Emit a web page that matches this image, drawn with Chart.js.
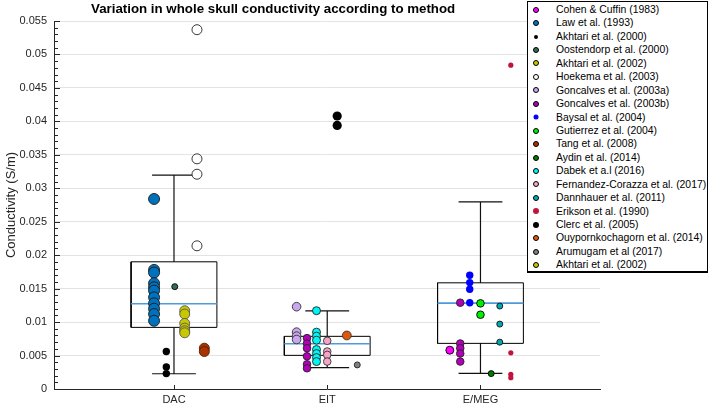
<!DOCTYPE html>
<html>
<head>
<meta charset="utf-8">
<script src="https://cdn.jsdelivr.net/npm/chart.js@4.4.1/dist/chart.umd.min.js"></script>
<style>
  html, body { margin: 0; padding: 0; background: #fff; }
  #wrap { position: relative; width: 709px; height: 408px; }
  #legend {
    position: absolute; left: 527px; top: 1px; width: 181px; height: 272px;
    box-sizing: border-box; border: 1px solid #000; border-bottom-width: 2px;
    background: #fff; font: 10.4px "Liberation Sans", Arial, sans-serif; color: #000;
  }
  #legend ul { list-style: none; margin: 0; padding: 1px 0 0 0; }
  #legend li { position: relative; height: 13.45px; line-height: 13.45px; padding-left: 28px; white-space: nowrap; }
  #legend li span { position: absolute; left: 8px; top: 50%; transform: translate(-50%, -50%); border-radius: 50%; box-sizing: border-box; }
</style>
</head>
<body>
<div id="wrap">
  <canvas id="chart" width="709" height="408"></canvas>
  <div id="legend"></div>
</div>
<script>
const categories = ['DAC', 'EIT', 'E/MEG'];
const yTickValues = [0, 0.005, 0.01, 0.015, 0.02, 0.025, 0.03, 0.035, 0.04, 0.045, 0.05, 0.055];

// boxplot statistics per method (S/m)
const whiskerLow  = [0.00228, 0.00318, 0.00234];
const quartile1   = [0.00921, 0.00503, 0.00682];
const medians     = [0.01274, 0.00676, 0.01284];
const quartile3   = [0.01901, 0.00787, 0.01587];
const whiskerHigh = [0.03196, 0.01169, 0.02797];

// skull conductivity per study (S/m)
const cohen1983 = [0.0058];
const law1993 = [0.0284, 0.0178, 0.0174, 0.0158, 0.0152, 0.0147, 0.0137, 0.0128, 0.0120, 0.0112, 0.0102];
const akhtari2000 = [0.0056, 0.0033, 0.0023];
const oostendorp2000 = [0.0153];
const akhtari2002 = [0.0117, 0.0112, 0.0098, 0.0091, 0.0087, 0.0084];
const hoekema2003 = [0.0537, 0.0344, 0.0321, 0.0214];
const goncalves2003a = [0.0123, 0.0085, 0.0079, 0.0074];
const goncalves2003bEIT = [0.0076, 0.0068, 0.0061, 0.0049, 0.0037, 0.0031];
const goncalves2003bMEG = [0.0129, 0.0068, 0.0061, 0.0053, 0.0041];
const baysal2004 = [0.0170, 0.0159, 0.0149, 0.0129];
const gutierrez2004 = [0.0128, 0.0111];
const tang2008 = [0.0061, 0.0056];
const aydin2014 = [0.0023];
const dabek2016 = [0.0117, 0.0085, 0.0079, 0.0073, 0.0059, 0.0053, 0.0047, 0.0041];
const fernandez2017 = [0.0072, 0.0056, 0.0051, 0.0041];
const dannhauer2011 = [0.0124, 0.0097, 0.0070];
const erikson1990 = [0.0484, 0.0054, 0.0022, 0.0017];
const clerc2005 = [0.0408, 0.0394];
const ouypornkochagorn2014 = [0.0080];
const arumugam2017 = [0.0036];

// study -> [method index, values]
const studies = [
  ['Cohen & Cuffin (1983)', [[2, cohen1983]]],
  ['Law et al. (1993)', [[0, law1993]]],
  ['Akhtari et al. (2000)', [[0, akhtari2000]]],
  ['Oostendorp et al. (2000)', [[0, oostendorp2000]]],
  ['Akhtari et al. (2002)', [[0, akhtari2002]]],
  ['Hoekema et al. (2003)', [[0, hoekema2003]]],
  ['Goncalves et al. (2003a)', [[1, goncalves2003a]]],
  ['Goncalves et al. (2003b)', [[1, goncalves2003bEIT], [2, goncalves2003bMEG]]],
  ['Baysal et al. (2004)', [[2, baysal2004]]],
  ['Gutierrez et al. (2004)', [[2, gutierrez2004]]],
  ['Tang et al. (2008)', [[0, tang2008]]],
  ['Aydin et al. (2014)', [[2, aydin2014]]],
  ['Dabek et a.l (2016)', [[1, dabek2016]]],
  ['Fernandez-Corazza et al. (2017)', [[1, fernandez2017]]],
  ['Dannhauer et al. (2011)', [[2, dannhauer2011]]],
  ['Erikson et al. (1990)', [[2, erikson1990]]],
  ['Clerc et al. (2005)', [[1, clerc2005]]],
  ['Ouypornkochagorn et al. (2014)', [[1, ouypornkochagorn2014]]],
  ['Arumugam et al (2017)', [[1, arumugam2017]]],
  ['Akhtari et al. (2002)', []]
];

// marker look: fill, radius, edge, horizontal shift in the group, legend dot size
const looks = [
  { fill: '#ff00ff', r: 4,   edge: '#000', dx: -0.20, dot: 6 },
  { fill: '#0072bd', r: 5.5, edge: '#1a1a1a', dx: -0.13, dot: 6 },
  { fill: '#000000', r: 3.7, edge: '#000', dx: -0.05, dot: 4, noEdge: true },
  { fill: '#336b55', r: 3,   edge: '#000', dx: 0.005, dot: 6 },
  { fill: '#c8c800', r: 5,   edge: '#555', dx: 0.07, dot: 6 },
  { fill: '#ffffff', r: 5,   edge: '#222', dx: 0.15, dot: 6 },
  { fill: '#c9a6ee', r: 4.3, edge: '#333', dx: -0.20, dot: 6 },
  { fill: '#b000b8', r: 3.8, edge: '#222', dx: -0.132, dot: 6 },
  { fill: '#0000ff', r: 3.7, edge: '#0000ff', dx: -0.07, dot: 5, noEdge: true },
  { fill: '#00f000', r: 3.8, edge: '#000', dx: 0.0, dot: 6 },
  { fill: '#a83200', r: 5,   edge: '#552000', dx: 0.198, dot: 6 },
  { fill: '#007a00', r: 3,   edge: '#000', dx: 0.07, dot: 6 },
  { fill: '#00f5f5', r: 4,   edge: '#222', dx: -0.07, dot: 6 },
  { fill: '#f4a4c8', r: 3.8, edge: '#333', dx: 0.0, dot: 6 },
  { fill: '#00a8b0', r: 3,   edge: '#111', dx: 0.126, dot: 6 },
  { fill: '#c0143c', r: 2.6, edge: '#c0143c', dx: 0.198, dot: 6, noEdge: true },
  { fill: '#000000', r: 4.6, edge: '#000', dx: 0.065, dot: 6, noEdge: true },
  { fill: '#e0560c', r: 4.4, edge: '#333', dx: 0.128, dot: 6 },
  { fill: '#7f7f7f', r: 3,   edge: '#222', dx: 0.196, dot: 6 },
  { fill: '#c8c800', r: 5,   edge: '#555', dx: 0.0, dot: 6 }
];

const halfBox = 0.28;
const halfCap = 0.143;

const pointSets = studies.map(function (s, i) {
  const look = looks[i];
  const data = [];
  s[1].forEach(function (g) {
    g[1].forEach(function (v) { data.push({ x: g[0] + 1 + look.dx, y: v }); });
  });
  return {
    label: s[0],
    data: data,
    backgroundColor: look.fill,
    borderColor: look.noEdge ? look.fill : look.edge,
    borderWidth: look.noEdge ? 0 : 0.9,
    pointRadius: look.r,
    order: 1,
    look: look
  };
});

function boxLines() {
  const pts = [];
  categories.forEach(function (c, i) {
    const x = i + 1;
    pts.push({ x: x - halfBox, y: quartile1[i] }, { x: x + halfBox, y: quartile1[i] },
             { x: x + halfBox, y: quartile3[i] }, { x: x - halfBox, y: quartile3[i] },
             { x: x - halfBox, y: quartile1[i] }, { x: x, y: null });
  });
  return pts;
}

function whiskerLines() {
  const pts = [];
  categories.forEach(function (c, i) {
    const x = i + 1;
    pts.push({ x: x, y: quartile3[i] }, { x: x, y: whiskerHigh[i] }, { x: x, y: null },
             { x: x - halfCap, y: whiskerHigh[i] }, { x: x + halfCap, y: whiskerHigh[i] }, { x: x, y: null },
             { x: x, y: quartile1[i] }, { x: x, y: whiskerLow[i] }, { x: x, y: null },
             { x: x - halfCap, y: whiskerLow[i] }, { x: x + halfCap, y: whiskerLow[i] }, { x: x, y: null });
  });
  return pts;
}

function medianLines() {
  const pts = [];
  categories.forEach(function (c, i) {
    const x = i + 1;
    pts.push({ x: x - halfBox, y: medians[i] }, { x: x + halfBox, y: medians[i] }, { x: x, y: null });
  });
  return pts;
}

const lineSet = function (data, color, width) {
  return {
    data: data, showLine: true, spanGaps: false, pointRadius: 0,
    borderColor: color, borderWidth: width, backgroundColor: color,
    order: 5, fill: false
  };
};

const axisColor = '#262626';

// inward tick marks, minor ticks every 0.001
const tickMarks = {
  id: 'tickMarks',
  beforeDatasetsDraw(chart) {
    const ctx = chart.ctx;
    const y = chart.scales.y, x = chart.scales.x;
    const left = chart.chartArea.left, bottom = chart.chartArea.bottom;
    ctx.save();
    ctx.strokeStyle = axisColor;
    ctx.lineWidth = 1;
    ctx.beginPath();
    for (let k = 0; k <= 55; k++) {
      const py = Math.round(y.getPixelForValue(k / 1000)) + 0.5;
      const len = k % 5 === 0 ? 6 : 4;
      ctx.moveTo(left, py);
      ctx.lineTo(left + len, py);
    }
    categories.forEach(function (c, i) {
      const px = Math.round(x.getPixelForValue(i + 1)) + 0.5;
      ctx.moveTo(px, bottom);
      ctx.lineTo(px, bottom - 4);
    });
    ctx.stroke();
    ctx.restore();
  }
};

const chartTitle = {
  id: 'chartTitle',
  afterDraw(chart) {
    const ctx = chart.ctx;
    ctx.save();
    ctx.fillStyle = '#000';
    ctx.font = 'bold 13.3px "Liberation Sans", Arial, sans-serif';
    ctx.textBaseline = 'alphabetic';
    ctx.fillText('Variation in whole skull conductivity according to method', 91, 13);
    ctx.restore();
  }
};

const htmlLegend = {
  id: 'htmlLegend',
  afterUpdate(chart) {
    const box = document.getElementById('legend');
    const ul = document.createElement('ul');
    chart.data.datasets.forEach(function (ds) {
      if (!ds.label) return;
      const li = document.createElement('li');
      const dot = document.createElement('span');
      const d = ds.look.dot;
      dot.style.width = d + 'px';
      dot.style.height = d + 'px';
      dot.style.background = ds.look.fill;
      dot.style.border = ds.look.noEdge ? 'none' : '1px solid #000';
      li.appendChild(dot);
      li.appendChild(document.createTextNode(ds.label));
      ul.appendChild(li);
    });
    box.innerHTML = '';
    box.appendChild(ul);
  }
};

new Chart(document.getElementById('chart'), {
  type: 'scatter',
  data: {
    datasets: pointSets.concat([
      lineSet(medianLines(), '#4f9bd9', 1.6),
      lineSet(boxLines(), '#000', 1),
      lineSet(whiskerLines(), '#111', 1.2)
    ])
  },
  options: {
    responsive: false,
    animation: false,
    layout: { padding: { left: 0, right: 109, top: 21, bottom: 0 } },
    plugins: { legend: { display: false }, tooltip: { enabled: false } },
    scales: {
      x: {
        type: 'linear', min: 0.217, max: 3.78,
        afterBuildTicks: function (scale) { scale.ticks = categories.map(function (c, i) { return { value: i + 1 }; }); },
        afterFit: function (scale) { scale.height = 19; },
        grid: { display: false, drawTicks: false, tickLength: 0 },
        border: { display: true, color: axisColor, width: 1 },
        ticks: {
          padding: 4, color: axisColor, maxRotation: 0,
          font: { family: '"Liberation Sans", Arial, sans-serif', size: 11 },
          callback: function (v) { return categories[v - 1]; }
        }
      },
      y: {
        min: 0, max: 0.055,
        afterBuildTicks: function (scale) { scale.ticks = yTickValues.map(function (v) { return { value: v }; }); },
        afterFit: function (scale) { scale.width = 54; },
        grid: { color: '#e3e3e3', lineWidth: 1, drawTicks: false, tickLength: 0 },
        border: { display: true, color: axisColor, width: 1 },
        title: {
          display: true, text: 'Conductivity (S/m)', color: axisColor,
          font: { family: '"Liberation Sans", Arial, sans-serif', size: 13 },
          padding: { top: 4, bottom: 0 }
        },
        ticks: {
          padding: 7, color: axisColor,
          font: { family: '"Liberation Sans", Arial, sans-serif', size: 11 },
          callback: function (v) { return String(+v.toFixed(3)); }
        }
      }
    }
  },
  plugins: [tickMarks, chartTitle, htmlLegend]
});
</script>
</body>
</html>
